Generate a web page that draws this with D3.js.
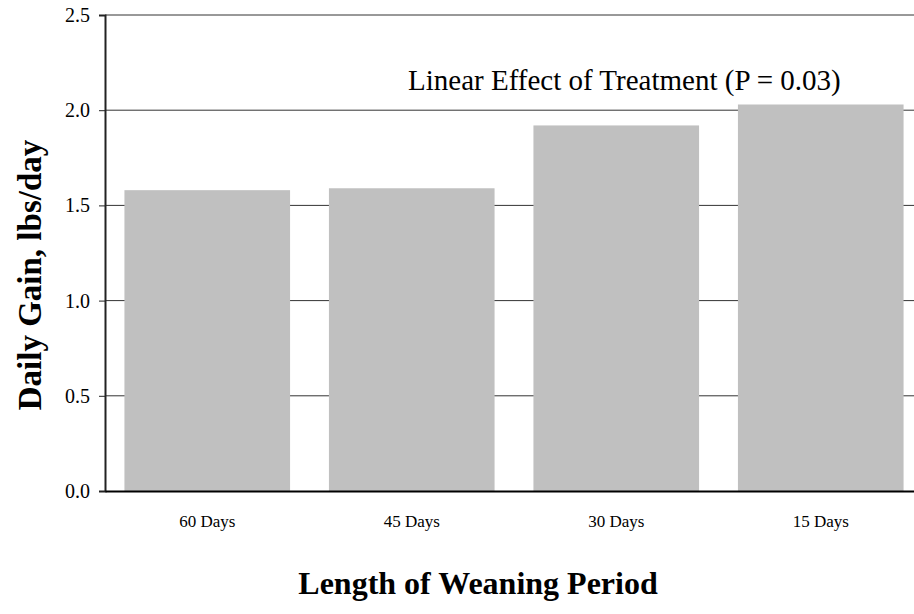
<!DOCTYPE html>
<html>
<head>
<meta charset="utf-8">
<script src="https://cdn.jsdelivr.net/npm/d3@7/dist/d3.min.js"></script>
<style>
  html, body { margin: 0; padding: 0; background: #fff; }
  svg { display: block; }
</style>
</head>
<body>
<svg id="chart" width="914" height="614"></svg>
<script>
const categories = ["60 Days", "45 Days", "30 Days", "15 Days"];
const dailyGain = [1.58, 1.59, 1.92, 2.03];
const yTicks = [0.0, 0.5, 1.0, 1.5, 2.0, 2.5];
const yAxisTitle = "Daily Gain, lbs/day";
const xAxisTitle = "Length of Weaning Period";
const annotation = "Linear Effect of Treatment (P = 0.03)";

const serif = "'Liberation Serif', 'Times New Roman', Times, serif";
const svg = d3.select("#chart");
const plotLeft = 105, plotRight = 923, plotTop = 15, plotBottom = 491;

const x = d3.scaleBand().domain(categories).range([plotLeft, plotRight])
  .paddingInner(0.19).paddingOuter(0.095);
const y = d3.scaleLinear().domain([0, 2.5]).range([plotBottom, plotTop]);

// gridlines
svg.append("g").selectAll("line").data(yTicks.filter(d => d > 0)).join("line")
  .attr("x1", plotLeft).attr("x2", plotRight)
  .attr("y1", d => y(d)).attr("y2", d => y(d))
  .attr("stroke", "#333").attr("stroke-width", 1);

// bars
svg.append("g").selectAll("rect").data(categories).join("rect")
  .attr("x", d => x(d)).attr("width", x.bandwidth())
  .attr("y", (d, i) => y(dailyGain[i]))
  .attr("height", (d, i) => y(0) - y(dailyGain[i]))
  .attr("fill", "#c0c0c0");

// y axis
const yAxis = d3.axisLeft(y).tickValues(yTicks).tickFormat(d3.format(".1f"))
  .tickSize(6).tickPadding(9);
const gy = svg.append("g").attr("transform", `translate(${plotLeft},0)`).call(yAxis);
gy.attr("font-family", null);
gy.select(".domain").attr("stroke", "#222").attr("stroke-width", 2);
gy.selectAll(".tick line").attr("stroke", "#222");
gy.selectAll(".tick text").style("font-family", serif).style("font-size", "20px").attr("fill", "#000");

// x axis baseline
const xAxis = d3.axisBottom(x).tickSize(0).tickPadding(24);
const gx = svg.append("g").attr("transform", `translate(0,${plotBottom})`).call(xAxis);
gx.attr("font-family", null);
gx.select(".domain").attr("stroke", "#000").attr("stroke-width", 2);
gx.selectAll(".tick text").style("font-family", serif).style("font-size", "17px").attr("fill", "#000");

// annotation
svg.append("text").attr("x", 408).attr("y", 90)
  .style("font-family", serif).style("font-size", "29px").attr("fill", "#000")
  .text(annotation);

// axis titles
svg.append("text").attr("x", 478).attr("y", 594).attr("text-anchor", "middle")
  .style("font-family", serif).style("font-size", "32px").style("font-weight", "bold")
  .attr("fill", "#000").text(xAxisTitle);
svg.append("text").attr("transform", "translate(41,275) rotate(-90)").attr("text-anchor", "middle")
  .style("font-family", serif).style("font-size", "33px").style("font-weight", "bold")
  .attr("fill", "#000").text(yAxisTitle);
</script>
</body>
</html>
